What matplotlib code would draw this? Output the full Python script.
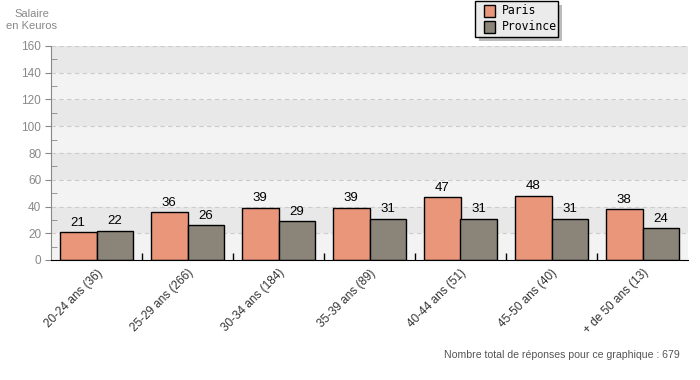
import matplotlib
matplotlib.use("Agg")
import matplotlib.pyplot as plt
from matplotlib.patches import Rectangle
import numpy as np

plt.rcParams['font.family'] = ['Liberation Sans', 'DejaVu Sans']

categories = ["20-24 ans (36)", "25-29 ans (266)", "30-34 ans (184)", "35-39 ans (89)",
              "40-44 ans (51)", "45-50 ans (40)", "+ de 50 ans (13)"]
paris = [21, 36, 39, 39, 47, 48, 38]
province = [22, 26, 29, 31, 31, 31, 24]
series_names = ["Paris", "Province"]
colors = ["#e9967a", "#8b8479"]
yticks = [0, 20, 40, 60, 80, 100, 120, 140, 160]

fig = plt.figure(figsize=(7, 3.8), dpi=100)
ax = fig.add_axes([51/700, 120/380, 637/700, 214/380])

n = len(categories)
x = np.arange(n)
w = 0.405
ax.set_xlim(-0.5, n - 0.5)
ax.set_ylim(0, 160)

# background bands
for lo in range(0, 160, 20):
    c = "#f3f3f3" if (lo // 20) % 2 == 0 else "#e8e8e8"
    ax.axhspan(lo, lo + 20, color=c, zorder=0, lw=0)
for t in yticks[1:]:
    ax.axhline(t, color="#cccccc", lw=0.8, ls=(0, (4, 3)), zorder=0.5)

b1 = ax.bar(x - w/2, paris, w, color=colors[0], edgecolor="black", lw=1, zorder=2)
b2 = ax.bar(x + w/2, province, w, color=colors[1], edgecolor="black", lw=1, zorder=2)
for bars, vals in ((b1, paris), (b2, province)):
    for r, v in zip(bars, vals):
        ax.text(r.get_x() + r.get_width()/2, v + 2.5, str(v), ha="center", va="bottom",
                fontsize=9.5, color="black")

for s in ["top", "right"]:
    ax.spines[s].set_visible(False)
ax.spines["left"].set_color("#888888")
ax.spines["bottom"].set_color("black")

ax.set_yticks(yticks)
ax.set_yticklabels([str(t) for t in yticks], color="#888888", fontsize=8.5)
ax.set_yticks(np.arange(10, 160, 20), minor=True)
ax.tick_params(axis="y", which="major", direction="out", length=4, color="#888888", pad=3)
ax.tick_params(axis="y", which="minor", direction="in", length=4, color="#888888")

ax.set_xticks(x)
ax.set_xticklabels(categories, rotation=45, ha="right", rotation_mode="anchor",
                   fontsize=8.5, color="#333333")
ax.tick_params(axis="x", which="major", length=0, pad=5)
ax.set_xticks(np.arange(0.5, n - 0.5, 1), minor=True)
ax.tick_params(axis="x", which="minor", direction="in", length=5, color="black", width=1)

fig.text(32/700, 1 - 20/380, "Salaire\nen Keuros", ha="center", va="center",
         fontsize=8, color="#888888", linespacing=1.15)
fig.text(680/700, 1 - 355/380, "Nombre total de réponses pour ce graphique : 679",
         ha="right", va="center", fontsize=7.6, color="#555555")

# legend with shadow
lx0, ly0, lw_, lh = 475, 1, 83, 36
fig.patches.append(Rectangle(((lx0 + 4)/700, 1 - (ly0 + lh + 4)/380), lw_/700, lh/380,
                             transform=fig.transFigure, facecolor="#bbbbbb", edgecolor="none", zorder=5))
fig.patches.append(Rectangle((lx0/700, 1 - (ly0 + lh)/380), lw_/700, lh/380,
                             transform=fig.transFigure, facecolor="#ebebeb", edgecolor="black",
                             lw=1, zorder=6))
for i, (name, c) in enumerate(zip(series_names, colors)):
    yc = 11 + i * 16
    fig.patches.append(Rectangle((484/700, 1 - (yc + 6)/380), 11/700, 12/380,
                                 transform=fig.transFigure, facecolor=c, edgecolor="black",
                                 lw=1, zorder=7))
    fig.text(502/700, 1 - yc/380, name, ha="left", va="center", fontsize=8.3,
             family="DejaVu Sans Mono", color="black", zorder=8)

fig.savefig("out.png", dpi=100)
